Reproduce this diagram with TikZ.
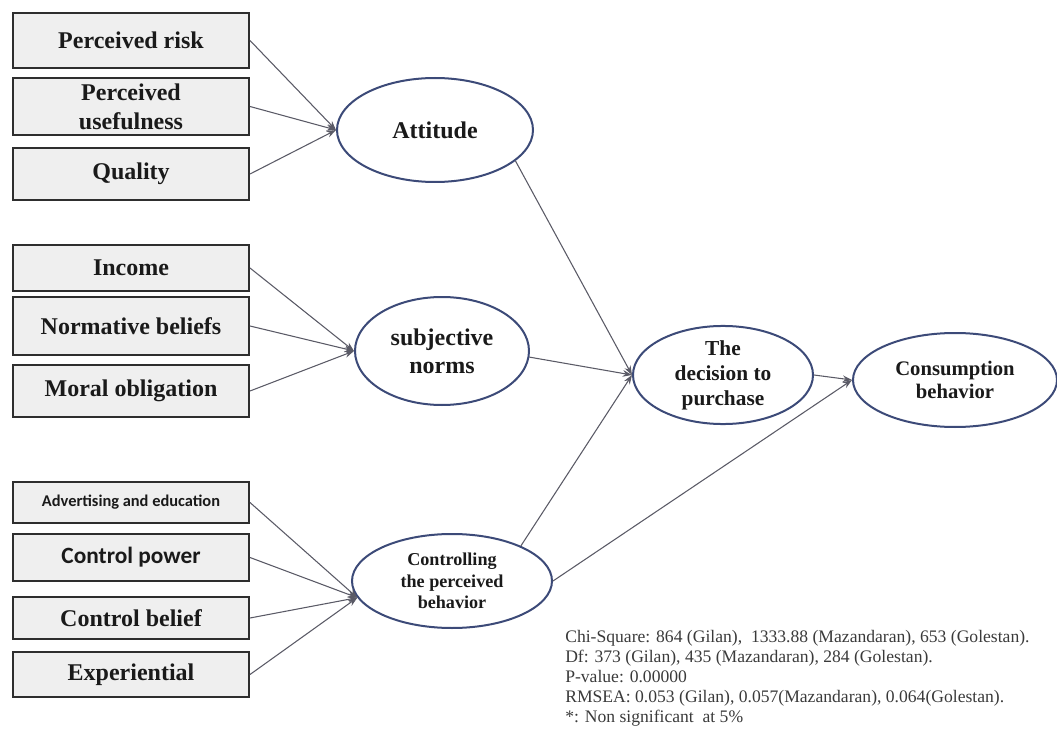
\documentclass[tikz,border=0pt]{standalone}
\usepackage{fontspec}
\setmainfont{Liberation Serif}
\newfontfamily\calib{Carlito}
\usetikzlibrary{shapes.geometric,arrows.meta,shadows}
\definecolor{boxfill}{HTML}{EFEFEF}
\definecolor{boxline}{HTML}{2E2E2E}
\definecolor{ellline}{HTML}{3C4A78}
\definecolor{arrline}{HTML}{5A5A66}
\definecolor{txt}{HTML}{1A1A1A}
\definecolor{stat}{HTML}{3A3A3A}
\begin{document}
\begin{tikzpicture}[x=0.75pt,y=-0.75pt,
  factor/.style={draw=boxline,line width=1.5pt,fill=boxfill,rectangle,
    minimum width=236*0.75pt,inner sep=0pt,align=center,text=txt,
    font=\bfseries\fontsize{18}{21.5}\selectfont,
    drop shadow={opacity=0.25,shadow xshift=1pt,shadow yshift=-1pt}},
  latent/.style={draw=ellline,line width=1.5pt,fill=white,ellipse,inner sep=0pt,
    align=center,text=txt},
  link/.style={draw=arrline,line width=0.8pt,-{Stealth[length=7pt,width=5pt]}}]
\useasboundingbox (0,0) rectangle (1057,731);
% factor boxes
\node[factor,minimum height=55*0.75pt] (risk) at (131,40.5) {Perceived risk};
\node[factor,minimum height=57*0.75pt] (use) at (131,106.5) {Perceived\\usefulness};
\node[factor,minimum height=52*0.75pt] (qual) at (131,174) {Quality};
\node[factor,minimum height=46*0.75pt] (inc) at (131,268) {Income};
\node[factor,minimum height=58*0.75pt] (norm) at (131,326) {Normative beliefs};
\node[factor,minimum height=52*0.75pt] (moral) at (131,391) {Moral obligation};
\node[factor,minimum height=41*0.75pt,font=\calib\bfseries\fontsize{12.3}{14}\selectfont] (adv) at (131,502.5) {Advertising and education};
\node[factor,minimum height=47*0.75pt,font=\calib\bfseries\fontsize{17.5}{20}\selectfont] (cpow) at (131,557.5) {Control power};
\node[factor,minimum height=42*0.75pt] (cbel) at (131,618) {Control belief};
\node[factor,minimum height=45*0.75pt] (exp) at (131,674.5) {Experiential};
% latent ellipses
\node[latent,minimum width=196*0.75pt,minimum height=104*0.75pt,font=\bfseries\fontsize{18}{21}\selectfont] (att) at (435,130) {Attitude};
\node[latent,minimum width=174*0.75pt,minimum height=108*0.75pt,font=\bfseries\fontsize{18}{21}\selectfont] (subj) at (442,351) {subjective\\norms};
\node[latent,minimum width=180*0.75pt,minimum height=92*0.75pt,font=\bfseries\fontsize{16}{18.75}\selectfont] (dec) at (723,375) {The\\decision to\\purchase};
\node[latent,minimum width=204*0.75pt,minimum height=94*0.75pt,font=\bfseries\fontsize{15.5}{17.5}\selectfont] (cons) at (955,380) {Consumption\\behavior};
\node[latent,minimum width=200*0.75pt,minimum height=94*0.75pt,font=\bfseries\fontsize{13.6}{16}\selectfont] (ctrl) at (452,581) {Controlling\\the perceived\\behavior};
% connectors
\draw[link] (risk.east) -- (att.west);
\draw[link] (use.east) -- (att.west);
\draw[link] (qual.east) -- (att.west);
\draw[link] (inc.east) -- (subj.west);
\draw[link] (norm.east) -- (subj.west);
\draw[link] (moral.east) -- (subj.west);
\draw[link] (adv.east) -- (ctrl.190);
\draw[link] (cpow.east) -- (ctrl.190);
\draw[link] (cbel.east) -- (ctrl.190);
\draw[link] (exp.east) -- (ctrl.190);
\draw[link] (att.-21) -- (dec.west);
\draw[link] (subj.-4) -- (dec.west);
\draw[link] (ctrl.27) -- (dec.west);
\draw[link] (ctrl.east) -- (cons.west);
\draw[link] (dec.east) -- (cons.west);
% statistics
\node[anchor=north west,align=left,inner sep=0pt,text=stat,font=\fontsize{13.2}{15}\selectfont] (stats) at (565,630)
  {Chi-Square: 864 (Gilan),\ \ 1333.88 (Mazandaran),\ 653 (Golestan).\\
   Df: 373 (Gilan),\ 435 (Mazandaran),\ 284 (Golestan).\\
   P-value: 0.00000\\
   RMSEA: 0.053 (Gilan),\ 0.057(Mazandaran),\ 0.064(Golestan).\\
   *: Non significant\ \ at 5\%};
\end{tikzpicture}
\end{document}
